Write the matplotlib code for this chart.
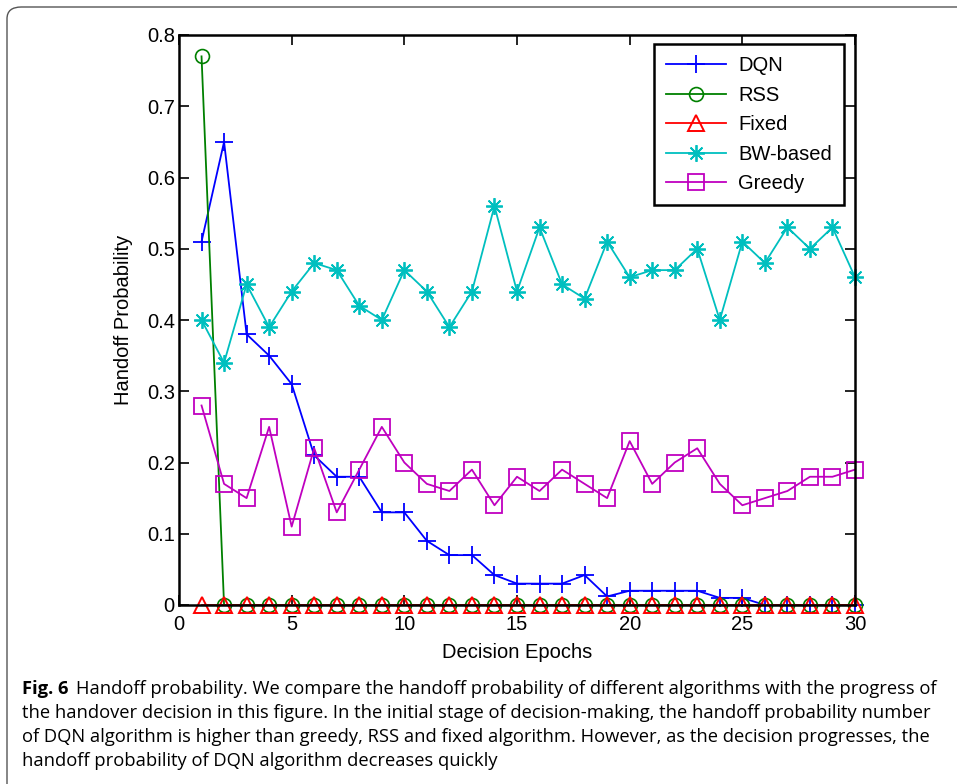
import matplotlib
matplotlib.use("Agg")
import matplotlib.pyplot as plt
from matplotlib.patches import FancyBboxPatch

# data
epochs = list(range(1, 31))
dqn = [0.51, 0.65, 0.38, 0.35, 0.31, 0.21, 0.18, 0.18, 0.13, 0.13,
       0.09, 0.07, 0.07, 0.042, 0.03, 0.03, 0.03, 0.042, 0.012, 0.02,
       0.02, 0.02, 0.02, 0.01, 0.01, 0, 0, 0, 0, 0]
rss = [0.77] + [0] * 29
fixed = [0] * 30
bw_based = [0.40, 0.34, 0.45, 0.39, 0.44, 0.48, 0.47, 0.42, 0.40, 0.47,
            0.44, 0.39, 0.44, 0.56, 0.44, 0.53, 0.45, 0.43, 0.51, 0.46,
            0.47, 0.47, 0.50, 0.40, 0.51, 0.48, 0.53, 0.50, 0.53, 0.46]
greedy = [0.28, 0.17, 0.15, 0.25, 0.11, 0.22, 0.13, 0.19, 0.25, 0.20,
          0.17, 0.16, 0.19, 0.14, 0.18, 0.16, 0.19, 0.17, 0.15, 0.23,
          0.17, 0.20, 0.22, 0.17, 0.14, 0.15, 0.16, 0.18, 0.18, 0.19]

caption_lines = [
    "Handoff probability. We compare the handoff probability of different algorithms with the progress of",
    "the handover decision in this figure. In the initial stage of decision-making, the handoff probability number",
    "of DQN algorithm is higher than greedy, RSS and fixed algorithm. However, as the decision progresses, the",
    "handoff probability of DQN algorithm decreases quickly",
]

W, H = 957, 784
fig = plt.figure(figsize=(W / 100, H / 100), dpi=100)
fig.patch.set_facecolor("white")

# rounded frame around the figure (cut at right/bottom)
frame = FancyBboxPatch((7 / W, -0.05), 1.2, 1.05 - 7 / H,
                       boxstyle="round,pad=0,rounding_size=0.015",
                       transform=fig.transFigure, fill=False,
                       edgecolor="#555555", linewidth=1.0)
fig.add_artist(frame)

ax = fig.add_axes([179 / W, (H - 605) / H, 676 / W, 570 / H])

lw = 1.3
ax.plot(epochs, dqn, color="blue", marker="+", markersize=13, markeredgewidth=1.3,
        linewidth=lw, label="DQN", clip_on=False)
ax.plot(epochs, rss, color=(0, 0.5, 0), marker="o", markersize=10, markerfacecolor="none",
        markeredgewidth=1.2, linewidth=lw, label="RSS", clip_on=False)
ax.plot(epochs, fixed, color="red", marker="^", markersize=11.5, markerfacecolor="none",
        markeredgewidth=1.4, linewidth=lw, label="Fixed", clip_on=False)
ax.plot(epochs, bw_based, color=(0, 0.75, 0.75), marker=(8, 2, 0), markersize=12,
        markeredgewidth=1.3, linewidth=lw, label="BW-based", clip_on=False)
ax.plot(epochs, greedy, color=(0.75, 0, 0.75), marker="s", markersize=11.5, markerfacecolor="none",
        markeredgewidth=1.3, linewidth=lw, label="Greedy", clip_on=False)

ax.set_xlim(0, 30)
ax.set_ylim(0, 0.8)
ax.set_xticks(range(0, 31, 5))
ax.set_yticks([i / 10 for i in range(9)])
ax.set_yticklabels(["0"] + ["0.%d" % i for i in range(1, 9)])

fs = 14.5
ax.tick_params(direction="in", top=True, right=True, length=7, width=1.2,
               labelsize=fs)
ax.tick_params(axis="x", pad=7)
ax.tick_params(axis="y", pad=3)
for s in ax.spines.values():
    s.set_linewidth(1.8)
for lab in ax.get_xticklabels() + ax.get_yticklabels():
    lab.set_family("Liberation Sans")

ax.set_xlabel("Decision Epochs", fontsize=fs, family="Liberation Sans", labelpad=7)
ax.set_ylabel("Handoff Probability", fontsize=fs, family="Liberation Sans", labelpad=10)

leg = ax.legend(loc="upper right", bbox_to_anchor=(0.984, 0.984), borderaxespad=0,
                fancybox=False, framealpha=1, edgecolor="black", handlelength=3.0,
                prop={"family": "Liberation Sans", "size": fs}, labelspacing=0.52,
                borderpad=0.6, handletextpad=0.6)
leg.get_frame().set_linewidth(1.8)

# caption
cap_fs = 13.25
x0 = 22 / W
baselines = [694, 718, 742, 766]
bold = fig.text(x0, 1 - baselines[0] / H, "Fig. 6", fontsize=cap_fs, family="Open Sans",
                fontweight="bold", va="baseline", ha="left")
fig.canvas.draw()
bb = bold.get_window_extent(renderer=fig.canvas.get_renderer())
x1 = (bb.x1 + 8) / W
fig.text(x1, 1 - baselines[0] / H, caption_lines[0], fontsize=cap_fs, family="Open Sans",
         va="baseline", ha="left")
for line, yb in zip(caption_lines[1:], baselines[1:]):
    fig.text(x0, 1 - yb / H, line, fontsize=cap_fs, family="Open Sans",
             va="baseline", ha="left")

fig.savefig("out.png", dpi=100)
